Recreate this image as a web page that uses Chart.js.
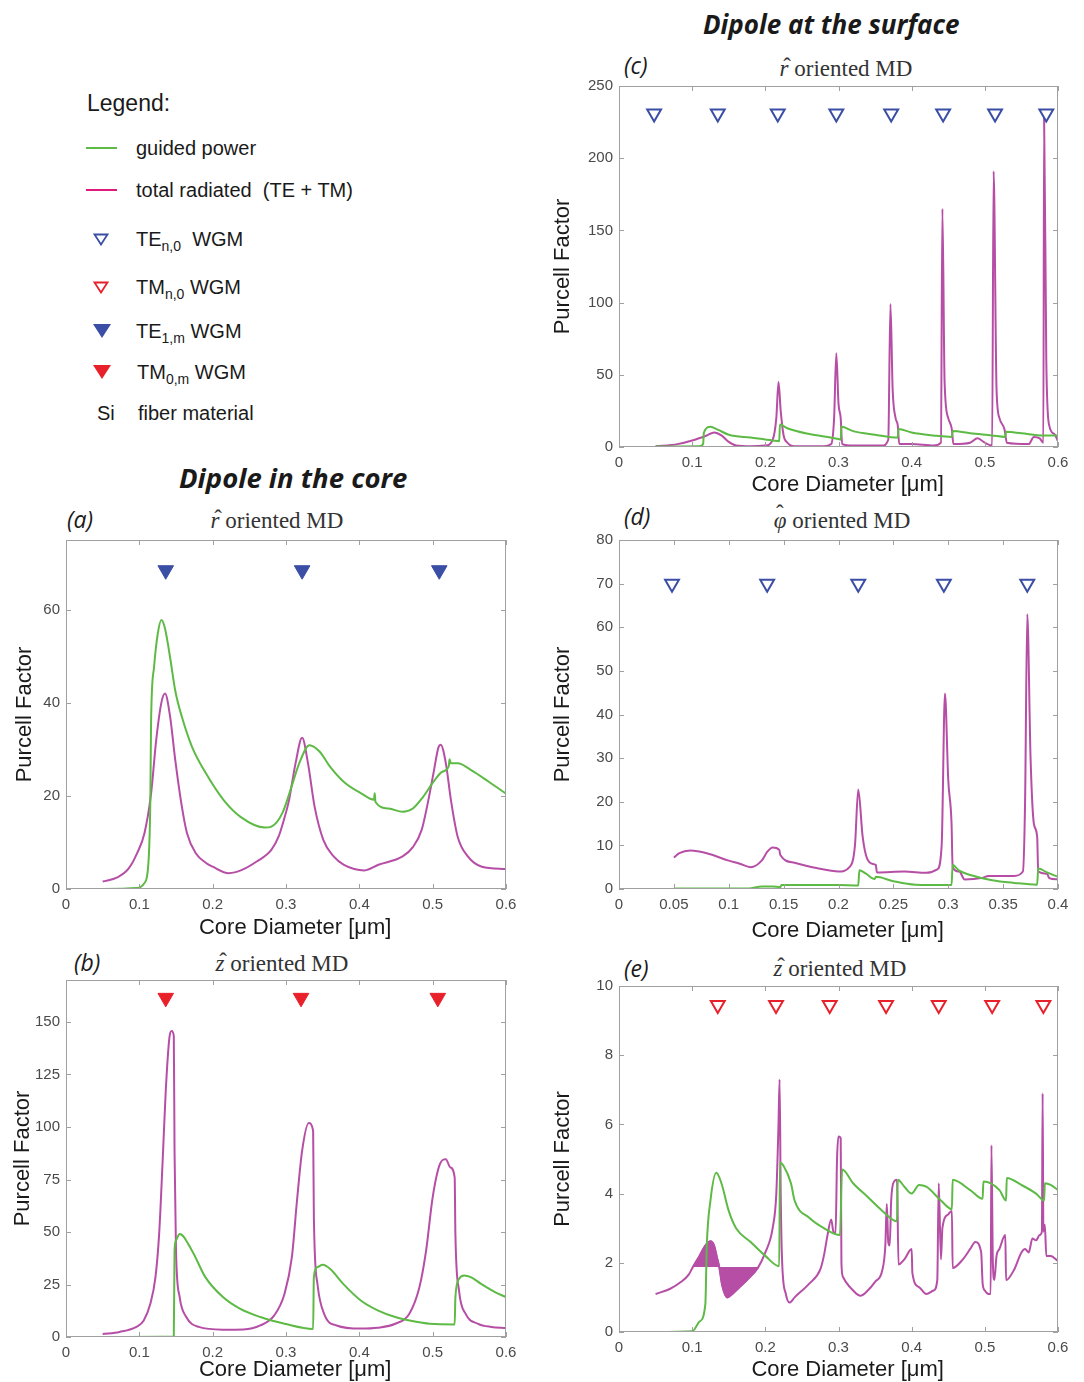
<!DOCTYPE html>
<html>
<head>
<meta charset="utf-8">
<script src="https://cdn.jsdelivr.net/npm/chart.js@4.4.0/dist/chart.umd.min.js"></script>
<style>
    html, body { margin: 0; padding: 0; background: #fff; overflow: hidden; }
    body { width: 1084px; height: 1382px; position: relative; font-family: "Liberation Sans", Arial, sans-serif; color: #1a1a1a; }
    .txt { position: absolute; white-space: nowrap; transform: translateY(-50%); }
    .head { font-family: "Open Sans", sans-serif; font-weight: 700; font-style: italic; font-size: 26px; }
    .panel { font-family: "Open Sans", sans-serif; font-style: italic; font-size: 23px; }
    .ptitle { font-family: "Liberation Serif", "DejaVu Serif", serif; font-size: 23px; color: #333; transform: translate(-50%, -50%); }
    .hat { position: relative; font-style: italic; }
    .hat::after { content: "\02C6"; position: absolute; left: 0.16em; top: -0.08em; font-style: normal; }
    .hat.tall::after { top: -0.32em; left: 0.1em; }
    .leg { font-size: 20px; }
    .leg sub { font-size: 14px; vertical-align: -5px; line-height: 0; }
    .legline { position: absolute; width: 31px; height: 2px; }
    .tri { position: absolute; }
    .box { position: absolute; }
    .box canvas { display: block; }
</style>
</head>
<body>

<!-- headings -->
<div class="txt head" style="left:703px; top:24px;">Dipole at the surface</div>
<div class="txt head" style="left:179px; top:477px; font-size:27.5px;">Dipole in the core</div>

<!-- legend block -->
<div class="txt" style="left:87px; top:103px; font-size:23px;">Legend:</div>
<div class="legline" style="left:86px; top:147px; background:#5dbb46;"></div>
<div class="txt leg" style="left:136px; top:148px;">guided power</div>
<div class="legline" style="left:86px; top:189px; background:#e0197d;"></div>
<div class="txt leg" style="left:136px; top:190px;">total radiated&nbsp; (TE + TM)</div>
<svg class="tri" style="left:93px; top:233px;" width="16" height="13"><polygon points="1.5,1.5 14.5,1.5 8,11.5" fill="#fff" stroke="#3a4ea5" stroke-width="1.8"/></svg>
<div class="txt leg" style="left:136px; top:239px;">TE<sub>n,0</sub>&nbsp; WGM</div>
<svg class="tri" style="left:93px; top:281px;" width="16" height="13"><polygon points="1.5,1.5 14.5,1.5 8,11.5" fill="#fff" stroke="#e8202a" stroke-width="1.8"/></svg>
<div class="txt leg" style="left:136px; top:287px;">TM<sub>n,0</sub> WGM</div>
<svg class="tri" style="left:93px; top:324px;" width="18" height="14"><polygon points="0,0 18,0 9,14" fill="#3a4ea5"/></svg>
<div class="txt leg" style="left:136px; top:331px;">TE<sub>1,m</sub> WGM</div>
<svg class="tri" style="left:93px; top:365px;" width="18" height="14"><polygon points="0,0 18,0 9,14" fill="#e8202a"/></svg>
<div class="txt leg" style="left:137px; top:372px;">TM<sub>0,m</sub> WGM</div>
<div class="txt leg" style="left:97px; top:413px;">Si</div>
<div class="txt leg" style="left:138px; top:413px;">fiber material</div>

<!-- panel labels and plot titles -->
<div class="txt panel" style="left:67px; top:519px;">(a)</div>
<div class="txt panel" style="left:74px; top:962px;">(b)</div>
<div class="txt panel" style="left:624px; top:65px;">(c)</div>
<div class="txt panel" style="left:624px; top:516px;">(d)</div>
<div class="txt panel" style="left:624px; top:968px;">(e)</div>
<div class="txt ptitle" style="left:277px; top:521px;"><span class="hat">r</span> oriented MD</div>
<div class="txt ptitle" style="left:282px; top:964px;"><span class="hat">z</span> oriented MD</div>
<div class="txt ptitle" style="left:846px; top:69px;"><span class="hat">r</span> oriented MD</div>
<div class="txt ptitle" style="left:842px; top:521px;"><span class="hat tall">φ</span> oriented MD</div>
<div class="txt ptitle" style="left:840px; top:969px;"><span class="hat">z</span> oriented MD</div>

<div class="box" style="left:4px; top:524px;"><canvas id="chartA" width="526" height="421"></canvas></div>
<div class="box" style="left:4px; top:964px;"><canvas id="chartB" width="526" height="429"></canvas></div>
<div class="box" style="left:539px; top:70px;"><canvas id="chartC" width="543" height="433"></canvas></div>
<div class="box" style="left:539px; top:524px;"><canvas id="chartD" width="543" height="421"></canvas></div>
<div class="box" style="left:539px; top:970px;"><canvas id="chartE" width="543" height="418"></canvas></div>

<script>
// ---------- data ----------

// ticks
const xTicks06 = [0, 0.1, 0.2, 0.3, 0.4, 0.5, 0.6];
const xTicks04 = [0, 0.05, 0.1, 0.15, 0.2, 0.25, 0.3, 0.35, 0.4];
const aYTicks = [0, 20, 40, 60];
const bYTicks = [0, 25, 50, 75, 100, 125, 150];
const cYTicks = [0, 50, 100, 150, 200, 250];
const dYTicks = [0, 10, 20, 30, 40, 50, 60, 70, 80];
const eYTicks = [0, 2, 4, 6, 8, 10];

// (a) dipole in the core, r oriented
const aRadX = [0.05, 0.07, 0.085, 0.097, 0.107, 0.116, 0.123, 0.13, 0.135, 0.142, 0.149, 0.158, 0.165, 0.177, 0.191, 0.2, 0.222, 0.24, 0.26, 0.28, 0.29, 0.297, 0.304, 0.313, 0.322, 0.33, 0.339, 0.351, 0.365, 0.379, 0.407, 0.426, 0.459, 0.473, 0.485, 0.494, 0.501, 0.508, 0.511, 0.518, 0.525, 0.534, 0.548, 0.567, 0.6];
const aRadY = [1.6, 2.5, 4.3, 7.7, 12, 20.5, 32, 40, 42, 37, 27.7, 17.7, 12, 7.7, 5.6, 4.8, 3.4, 4.1, 5.9, 8.4, 11.3, 14.8, 19, 27, 32.5, 27, 17.7, 10.5, 7, 5.2, 4, 5.2, 7, 9, 12.7, 19, 24.8, 30.5, 31, 27, 19, 11.3, 7, 4.8, 4.3];
const aGuideX = [0.05, 0.097, 0.107, 0.112, 0.115, 0.116, 0.12, 0.125, 0.13, 0.135, 0.142, 0.149, 0.158, 0.172, 0.191, 0.215, 0.238, 0.271, 0.28, 0.295, 0.309, 0.318, 0.332, 0.346, 0.36, 0.379, 0.403, 0.42, 0.421, 0.422, 0.44, 0.459, 0.473, 0.487, 0.501, 0.513, 0.522, 0.523, 0.525, 0.534, 0.553, 0.577, 0.6];
const aGuideY = [0, 0.2, 1.3, 4.8, 19, 36, 47.6, 54.7, 57.8, 56, 49.7, 42.6, 37, 30.5, 24.8, 19.1, 15.5, 13.2, 13.4, 16.3, 22.7, 27, 30.9, 29.5, 26.3, 23, 20.5, 19.2, 20.6, 18.7, 17.3, 16.6, 17.3, 19.8, 23, 25.2, 26.4, 27.9, 27, 27, 25.5, 23, 20.5];
const aMarkX = [0.136, 0.322, 0.509];
const aMarkY = [68.5, 68.5, 68.5];

// (b) dipole in the core, z oriented
const bRadX = [0.05, 0.073, 0.096, 0.106, 0.115, 0.122, 0.127, 0.132, 0.136, 0.141, 0.144, 0.147, 0.148, 0.15, 0.155, 0.164, 0.181, 0.214, 0.242, 0.265, 0.284, 0.298, 0.308, 0.315, 0.322, 0.331, 0.337, 0.338, 0.343, 0.352, 0.369, 0.402, 0.425, 0.449, 0.468, 0.482, 0.491, 0.5, 0.51, 0.518, 0.524, 0.53, 0.531, 0.536, 0.545, 0.562, 0.58, 0.6];
const bRadY = [1.4, 2.4, 4.8, 7.9, 15.8, 28.5, 49, 85.5, 117, 142.6, 145.7, 143.4, 88.7, 41, 19, 9.5, 4.8, 3.5, 3.6, 5.5, 10.3, 20.6, 38, 65, 88.7, 101.9, 98.2, 57, 25, 11, 5.5, 4, 4.4, 6.3, 11, 23.8, 41, 66.5, 82.4, 84.7, 80.8, 76, 49, 22, 11, 6.3, 4.8, 4.3];
const bGuideX = [0.05, 0.147, 0.148, 0.15, 0.155, 0.172, 0.19, 0.214, 0.237, 0.265, 0.298, 0.337, 0.338, 0.343, 0.35, 0.36, 0.378, 0.402, 0.425, 0.449, 0.472, 0.496, 0.53, 0.531, 0.536, 0.543, 0.552, 0.566, 0.585, 0.6];
const bGuideY = [0, 0.2, 41, 46, 49, 41, 28.5, 19, 13.5, 9.5, 6.3, 3.8, 28.5, 33.3, 34.4, 32.5, 25.3, 17.4, 12.7, 9.5, 7.6, 6.3, 6, 19, 27.7, 29.3, 28.5, 25.3, 21.4, 19];
const bMarkX = [0.136, 0.3205, 0.507];
const bMarkY = [161.5, 161.5, 161.5];

// (c) dipole at the surface, r oriented
const cRadX = [0.05, 0.08, 0.1, 0.12, 0.13, 0.14, 0.15, 0.16, 0.18, 0.2, 0.21, 0.215, 0.218, 0.221, 0.225, 0.23, 0.24, 0.28, 0.29, 0.294, 0.297, 0.3, 0.303, 0.305, 0.32, 0.36, 0.368, 0.371, 0.374, 0.378, 0.381, 0.383, 0.4, 0.43, 0.44, 0.442, 0.445, 0.45, 0.455, 0.457, 0.48, 0.49, 0.5, 0.51, 0.512, 0.516, 0.52, 0.527, 0.53, 0.56, 0.567, 0.575, 0.58, 0.581, 0.584, 0.588, 0.595, 0.6];
const cRadY = [0.5, 2, 4.5, 8, 10, 8, 3.5, 1, 0.5, 1, 5, 20, 45, 25, 8, 3, 0.5, 0.5, 2, 20, 65, 30, 20, 2, 1, 1, 5, 99, 40, 20, 15, 2, 2, 1, 3, 165, 45, 20, 12, 2, 3, 6, 3, 1, 191, 40, 20, 12, 3, 2, 7, 6, 3, 228, 60, 15, 9, 4];
const cGuideX = [0.05, 0.11, 0.115, 0.116, 0.125, 0.135, 0.15, 0.18, 0.21, 0.219, 0.22, 0.23, 0.26, 0.3, 0.303, 0.304, 0.32, 0.35, 0.381, 0.382, 0.4, 0.43, 0.455, 0.456, 0.48, 0.51, 0.528, 0.529, 0.55, 0.58, 0.6];
const cGuideY = [0.3, 0.5, 2, 10, 14, 12, 8.5, 6.5, 4.5, 4, 15.5, 13, 9, 5.5, 5, 14, 11, 8.5, 6.5, 12.5, 10, 8, 7, 11, 9.5, 8, 7, 10.5, 9.5, 8, 8];
const cMarkX = [0.048, 0.135, 0.217, 0.297, 0.372, 0.443, 0.514, 0.584];
const cMarkY = [231, 231, 231, 231, 231, 231, 231, 231];

// (d) dipole at the surface, phi oriented
const dRadX = [0.05, 0.055, 0.065, 0.08, 0.1, 0.11, 0.12, 0.13, 0.135, 0.14, 0.146, 0.147, 0.16, 0.18, 0.2, 0.21, 0.215, 0.218, 0.222, 0.226, 0.232, 0.234, 0.235, 0.26, 0.28, 0.29, 0.294, 0.297, 0.3, 0.303, 0.304, 0.31, 0.315, 0.33, 0.337, 0.36, 0.368, 0.37, 0.372, 0.375, 0.378, 0.381, 0.382, 0.39, 0.392, 0.4];
const dRadY = [7.2, 8.2, 8.8, 8.2, 6.5, 5.8, 5, 6.5, 8.5, 9.5, 9, 7.8, 6, 4.8, 4, 5, 10, 22.8, 12, 7, 5.7, 5.5, 3.8, 4, 3.7, 4.5, 10, 44.8, 25, 15, 5, 4, 2.2, 2.5, 3, 3, 4, 20, 63, 30, 15, 12, 4, 3.5, 2.5, 2.2];
const dGuideX = [0.05, 0.118, 0.13, 0.14, 0.147, 0.148, 0.2, 0.218, 0.219, 0.225, 0.233, 0.234, 0.25, 0.27, 0.3, 0.303, 0.304, 0.31, 0.32, 0.34, 0.36, 0.381, 0.382, 0.39, 0.4];
const dGuideY = [0.1, 0.1, 0.6, 0.6, 0.4, 0.9, 0.9, 0.8, 4.3, 3.5, 2.3, 2.8, 1.8, 1, 0.9, 0.9, 5.5, 4.2, 3.2, 2, 1.4, 1, 4.7, 3.8, 2.8];
const dMarkX = [0.0483, 0.135, 0.218, 0.296, 0.372];
const dMarkY = [70, 70, 70, 70, 70];

// (e) dipole at the surface, z oriented
const eRadX = [0.05, 0.07, 0.085, 0.095, 0.101, 0.11, 0.118, 0.125, 0.13, 0.134, 0.137, 0.141, 0.148, 0.155, 0.165, 0.175, 0.19, 0.2, 0.21, 0.215, 0.218, 0.2195, 0.221, 0.223, 0.228, 0.233, 0.24, 0.26, 0.275, 0.28, 0.285, 0.29, 0.293, 0.296, 0.298, 0.3, 0.303, 0.304, 0.306, 0.31, 0.32, 0.33, 0.34, 0.35, 0.36, 0.364, 0.366, 0.368, 0.37, 0.372, 0.376, 0.38, 0.382, 0.39, 0.4, 0.401, 0.41, 0.42, 0.43, 0.435, 0.437, 0.44, 0.442, 0.45, 0.455, 0.456, 0.47, 0.48, 0.487, 0.495, 0.497, 0.5, 0.505, 0.508, 0.509, 0.511, 0.513, 0.516, 0.52, 0.528, 0.529, 0.54, 0.55, 0.555, 0.56, 0.565, 0.57, 0.575, 0.578, 0.579, 0.58, 0.582, 0.584, 0.59, 0.6];
const eRadY = [1.1, 1.25, 1.45, 1.65, 1.88, 2.2, 2.5, 2.62, 2.5, 2.15, 1.88, 1.35, 1, 1.1, 1.3, 1.5, 1.86, 2.3, 3, 4, 6, 7.3, 4, 2, 1.1, 0.85, 1, 1.4, 1.8, 2.2, 2.8, 3.25, 2.9, 2.85, 5, 5.65, 5.6, 2, 1.6, 1.45, 1.2, 1.05, 1.2, 1.45, 1.8, 2.5, 3.7, 2.6, 2.5, 3.8, 4.35, 4.4, 1.95, 2.1, 2.4, 1.7, 1.3, 1.1, 1.2, 1.5, 4.3, 2.1, 3, 3.4, 3.5, 1.85, 2.1, 2.4, 2.6, 2.3, 1.4, 1.2, 1.1, 1.1, 5.4, 2, 1.5, 2.2, 2.4, 2.8, 1.5, 1.8, 2.3, 2.4, 2.3, 2.7, 2.65, 2.8, 2.9, 6.9, 2.9, 3.1, 2.2, 2.2, 2.05];
const eFillLevel = 1.88;
const eFillRange = [0.101, 0.19];
const eGuideX = [0.05, 0.1, 0.11, 0.118, 0.12, 0.125, 0.133, 0.14, 0.15, 0.16, 0.18, 0.2, 0.219, 0.22, 0.225, 0.235, 0.24, 0.26, 0.28, 0.302, 0.305, 0.32, 0.34, 0.36, 0.38, 0.381, 0.39, 0.4, 0.41, 0.42, 0.44, 0.455, 0.456, 0.48, 0.497, 0.498, 0.52, 0.529, 0.53, 0.55, 0.57, 0.581, 0.582, 0.59, 0.6];
const eGuideY = [0, 0.02, 0.3, 0.8, 2.5, 3.8, 4.6, 4.3, 3.5, 3, 2.6, 2.2, 1.9, 4.9, 4.8, 4.3, 3.8, 3.3, 3, 2.8, 4.7, 4.3, 3.9, 3.5, 3.2, 4.4, 4.2, 4, 4.25, 4.2, 3.8, 3.55, 4.4, 4.1, 3.85, 4.35, 4.1, 3.8, 4.45, 4.25, 4, 3.8, 4.3, 4.25, 4.1];
const eMarkX = [0.135, 0.2146, 0.288, 0.365, 0.437, 0.51, 0.58];
const eMarkY = [9.45, 9.45, 9.45, 9.45, 9.45, 9.45, 9.45];

// ---------- styling ----------
const GREEN = '#5dba45';
const MAGENTA = '#b64ea6';
const BLUE = '#3a4ea5';
const RED = '#e8202a';

//turns two arrays into chart points
function pts(xs, ys) {
    return xs.map((x, i) => ({x: x, y: ys[i]}));
}

//draws the matlab style box with inward tick marks
const boxPlugin = {
    id: 'box',
    afterDraw(chart) {
        const ctx = chart.ctx;
        const a = chart.chartArea;
        const x = chart.scales.x;
        const y = chart.scales.y;
        ctx.save();
        ctx.strokeStyle = '#a0a0a0';
        ctx.lineWidth = 1;
        ctx.strokeRect(Math.round(a.left) + 0.5, Math.round(a.top) + 0.5, Math.round(a.width) - 1, Math.round(a.height) - 1);
        ctx.beginPath();
        x.ticks.forEach(t => {
            const px = Math.round(x.getPixelForValue(t.value)) + 0.5;
            ctx.moveTo(px, a.bottom); ctx.lineTo(px, a.bottom - 5);
            ctx.moveTo(px, a.top); ctx.lineTo(px, a.top + 5);
        });
        y.ticks.forEach(t => {
            const py = Math.round(y.getPixelForValue(t.value)) + 0.5;
            ctx.moveTo(a.left, py); ctx.lineTo(a.left + 5, py);
            ctx.moveTo(a.right, py); ctx.lineTo(a.right - 5, py);
        });
        ctx.stroke();
        ctx.restore();
    }
};

function lineSet(data, color) {
    return {
        data: data,
        borderColor: color,
        backgroundColor: color,
        borderWidth: 2,
        pointRadius: 0,
        cubicInterpolationMode: 'monotone',
        fill: false
    };
}

function markerSet(data, color, open) {
    return {
        data: data,
        showLine: false,
        pointStyle: 'triangle',
        pointRotation: 180,
        pointRadius: open ? 8 : 9,
        pointBorderWidth: open ? 2 : 1,
        pointBorderColor: color,
        pointBackgroundColor: open ? '#ffffff' : color
    };
}

//builds one panel
function makePanel(id, datasets, opt) {
    const tickFont = {family: '"Liberation Sans", Arial, sans-serif', size: 15};
    const titleFont = {family: '"Liberation Sans", Arial, sans-serif', size: 22};
    return new Chart(document.getElementById(id), {
        type: 'line',
        data: {datasets: datasets},
        options: {
            responsive: false,
            animation: false,
            layout: {padding: {top: 16, right: 24, left: 0, bottom: 0}},
            plugins: {legend: {display: false}, tooltip: {enabled: false}},
            scales: {
                x: {
                    type: 'linear',
                    min: opt.xTicks[0],
                    max: opt.xTicks[opt.xTicks.length - 1],
                    afterBuildTicks: s => { s.ticks = opt.xTicks.map(v => ({value: v})); },
                    afterFit: s => { s.height = 56; },
                    grid: {display: false, drawTicks: false},
                    border: {display: false},
                    ticks: {font: tickFont, color: '#4a4a4a', padding: 7, maxRotation: 0, autoSkip: false, callback: v => String(v)},
                    // leading spaces nudge the label right like the original
                    title: {display: true, text: '\u00a0\u00a0\u00a0Core Diameter [μm]', font: titleFont, color: '#1a1a1a', padding: {top: 0, bottom: opt.xTitlePad}}
                },
                y: {
                    type: 'linear',
                    min: opt.yRange[0],
                    max: opt.yRange[1],
                    afterBuildTicks: s => { s.ticks = opt.yTicks.map(v => ({value: v})); },
                    afterFit: s => { s.width = opt.yWidth; },
                    grid: {display: false, drawTicks: false},
                    border: {display: false},
                    ticks: {font: tickFont, color: '#4a4a4a', padding: 6, autoSkip: false, callback: v => String(v)},
                    title: {display: true, text: 'Purcell Factor', font: titleFont, color: '#1a1a1a', padding: {top: opt.yTitlePad, bottom: 0}}
                }
            }
        },
        plugins: [boxPlugin]
    });
}

// (a)
makePanel('chartA', [
    markerSet(pts(aMarkX, aMarkY), BLUE, false),
    lineSet(pts(aGuideX, aGuideY), GREEN),
    lineSet(pts(aRadX, aRadY), MAGENTA)
], {xTicks: xTicks06, yTicks: aYTicks, yRange: [0, 75], yWidth: 62, yTitlePad: 7.8, xTitlePad: 3.8});

// (b)
makePanel('chartB', [
    markerSet(pts(bMarkX, bMarkY), RED, false),
    lineSet(pts(bGuideX, bGuideY), GREEN),
    lineSet(pts(bRadX, bRadY), MAGENTA)
], {xTicks: xTicks06, yTicks: bYTicks, yRange: [0, 170], yWidth: 62, yTitlePad: 5.8, xTitlePad: 9.8});

// (c)
makePanel('chartC', [
    markerSet(pts(cMarkX, cMarkY), BLUE, true),
    lineSet(pts(cGuideX, cGuideY), GREEN),
    lineSet(pts(cRadX, cRadY), MAGENTA)
], {xTicks: xTicks06, yTicks: cYTicks, yRange: [0, 250], yWidth: 80, yTitlePad: 10.8, xTitlePad: 4.8});

// (d)
makePanel('chartD', [
    markerSet(pts(dMarkX, dMarkY), BLUE, true),
    lineSet(pts(dGuideX, dGuideY), GREEN),
    lineSet(pts(dRadX, dRadY), MAGENTA)
], {xTicks: xTicks04, yTicks: dYTicks, yRange: [0, 80], yWidth: 80, yTitlePad: 10.8, xTitlePad: 0.8});

// (e) the messy part of the radiated curve is filled against a flat level
const eRad = pts(eRadX, eRadY);
const eFill = eRad.filter(p => p.x >= eFillRange[0] && p.x <= eFillRange[1]);
const eFillSet = lineSet(eFill, MAGENTA);
eFillSet.fill = {value: eFillLevel};
eFillSet.borderWidth = 1.5;

makePanel('chartE', [
    markerSet(pts(eMarkX, eMarkY), RED, true),
    lineSet(pts(eGuideX, eGuideY), GREEN),
    lineSet(eRad, MAGENTA),
    eFillSet
], {xTicks: xTicks06, yTicks: eYTicks, yRange: [0, 10], yWidth: 80, yTitlePad: 10.8, xTitlePad: 4.8});
</script>
</body>
</html>
